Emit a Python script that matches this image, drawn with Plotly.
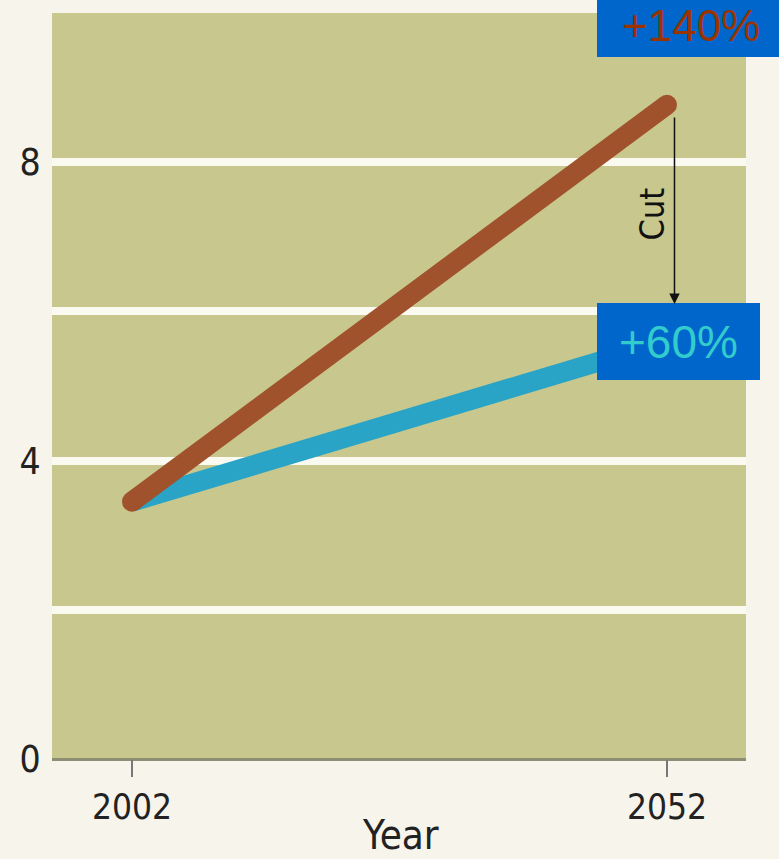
import plotly.graph_objects as go

years = [2002, 2052]
high_path = [3.45, 8.77]   # brown: +140%
low_path = [3.45, 5.6]     # blue: +60%
x_ticks = [2002, 2052]
y_ticks = [0, 2, 4, 6, 8]
y_ticktext = ["0", "", "4", "", "8"]
label_high = "+140%"
label_low = "+60%"
cut_label = "Cut"
x_title = "Year"

W, H = 779, 859
L, R, T, B = 52, 33, 13, 100

BROWN = "#A0522D"
BLUE = "#29A3C6"
BOX = "#0066CC"
NARROW = "Liberation Sans Narrow, DejaVu Sans Condensed, Arial Narrow, sans-serif"
ARIAL = "Liberation Sans, Arial, sans-serif"

fig = go.Figure()
fig.add_trace(go.Scatter(x=years, y=low_path, mode="lines+markers",
                         line=dict(color=BLUE, width=20),
                         marker=dict(color=BLUE, size=19), hoverinfo="skip"))
fig.add_trace(go.Scatter(x=years, y=high_path, mode="lines+markers",
                         line=dict(color=BROWN, width=20),
                         marker=dict(color=BROWN, size=20), hoverinfo="skip"))

pw = W - L - R
ph = H - T - B
def px(x):
    return (x - L) / pw
def py(y):
    return (H - B - y) / ph

# Cut arrow (from high path end down to low path label)
fig.add_annotation(x=2052.7, y=6.1, ax=2052.7, ay=8.62, xref="x", yref="y",
                   axref="x", ayref="y", showarrow=True, arrowhead=2,
                   arrowsize=1.4, arrowwidth=1.5, arrowcolor="#111", text="")
fig.add_annotation(x=2050.6, y=7.3, xref="x", yref="y", text=cut_label,
                   showarrow=False, textangle=-90,
                   xanchor="center", yanchor="middle",
                   font=dict(family=NARROW, size=34, color="#111"))

# label boxes
fig.add_shape(type="rect", xref="paper", yref="paper",
              x0=px(597), x1=px(779), y0=py(57), y1=py(-20),
              fillcolor=BOX, line=dict(width=0), layer="above")
fig.add_shape(type="rect", xref="paper", yref="paper",
              x0=px(597), x1=px(760), y0=py(380), y1=py(303),
              fillcolor=BOX, line=dict(width=0), layer="above")
fig.add_annotation(x=px(691), y=py(25), xref="paper", yref="paper",
                   text=label_high, showarrow=False,
                   xanchor="center", yanchor="middle",
                   font=dict(family=ARIAL, size=44, color="#993300"))
fig.add_annotation(x=px(678), y=py(342), xref="paper", yref="paper",
                   text=label_low, showarrow=False,
                   xanchor="center", yanchor="middle",
                   font=dict(family=ARIAL, size=46, color="#33CCCC"))
# x-axis title
fig.add_annotation(x=px(400), y=py(835), xref="paper", yref="paper",
                   text=x_title, showarrow=False,
                   xanchor="center", yanchor="middle",
                   font=dict(family=NARROW, size=40, color="#222"))

x_lo = 2002 - (132 - L) / 10.7
x_hi = 2052 + (W - R - 667) / 10.7

fig.update_layout(
    width=W, height=H,
    margin=dict(l=L, r=R, t=T, b=B),
    paper_bgcolor="#F7F4EC",
    plot_bgcolor="#C8C88E",
    showlegend=False,
    xaxis=dict(range=[x_lo, x_hi], tickvals=x_ticks, ticks="outside",
               ticklen=17, tickwidth=2, tickcolor="#777", automargin=False,
               showgrid=False, zeroline=False, showline=False,
               tickfont=dict(family=NARROW, size=35, color="#222")),
    yaxis=dict(range=[0, 10], tickvals=y_ticks, ticktext=y_ticktext,
               ticks="outside", ticklen=3, tickcolor="rgba(0,0,0,0)",
               automargin=False,
               showgrid=True, gridcolor="#FBFAF0", gridwidth=8,
               zeroline=True, zerolinecolor="#8E8E74", zerolinewidth=3,
               showline=False,
               tickfont=dict(family=NARROW, size=37, color="#222")),
)

fig.write_html("out.html")
